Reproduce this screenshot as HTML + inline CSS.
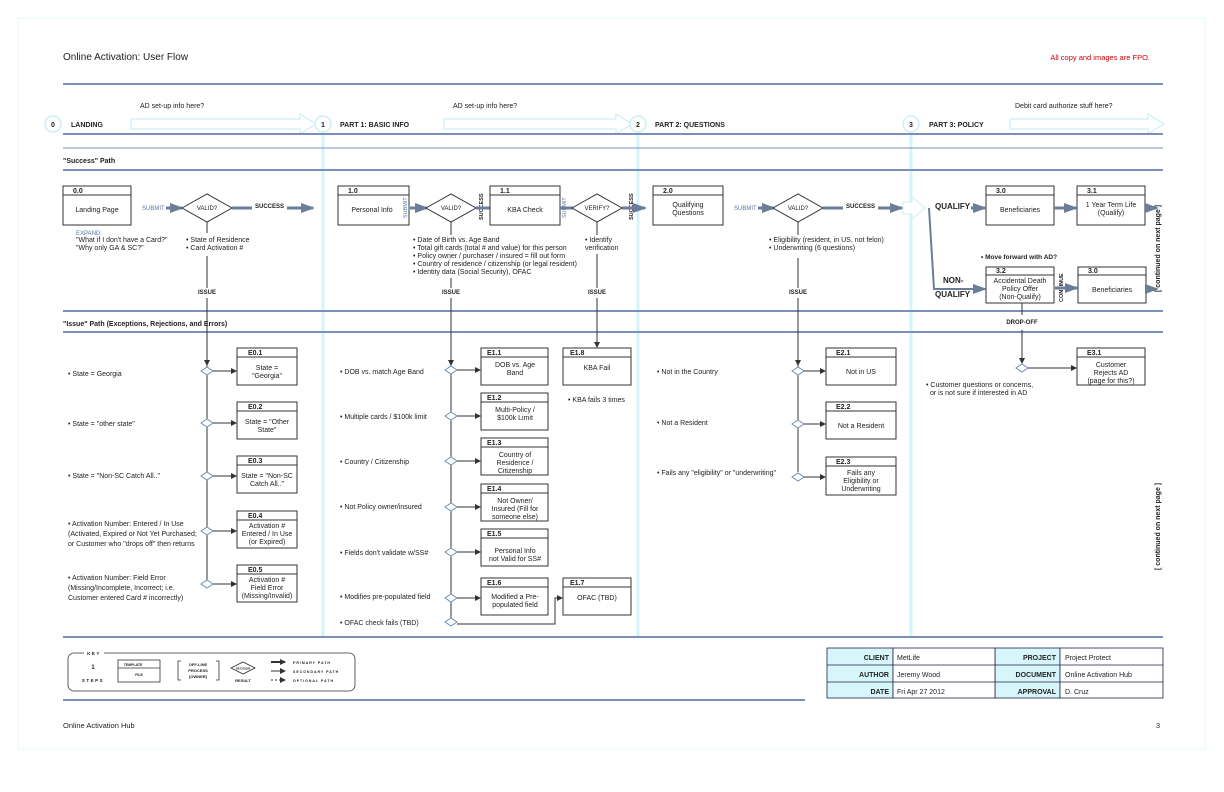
<!DOCTYPE html>
<html><head><meta charset="utf-8"><style>
html,body{margin:0;padding:0;background:#fff;}
svg{display:block;font-family:"Liberation Sans",sans-serif;}
text{fill:#222;font-size:7px;}
.b{font-weight:bold;}
.c{text-anchor:middle;}
.r{text-anchor:end;}
.bx{fill:#fff;stroke:#333;stroke-width:1;}
.hl{stroke:#7b90b8;stroke-width:2;}
.cy{stroke:#d4f4fa;stroke-width:3;}
.ln{stroke:#333;stroke-width:1;fill:none;}
.dm{fill:#fff;stroke:#6f8fb0;stroke-width:1;}
.dmb{fill:#fff;stroke:#333;stroke-width:1;}
.pa{stroke:#6a7d99;stroke-width:3;}
</style></head><body>
<svg width="1224" height="792" viewBox="0 0 1224 792" xmlns="http://www.w3.org/2000/svg">
<defs>
<marker id="ah" markerWidth="6" markerHeight="6" refX="5" refY="3" orient="auto" markerUnits="userSpaceOnUse"><path d="M0,0 L6,3 L0,6 z" fill="#333"/></marker>
<marker id="ahb" markerWidth="14" markerHeight="10" refX="12" refY="5" orient="auto" markerUnits="userSpaceOnUse"><path d="M0,0 L14,5 L0,10 z" fill="#6a7d99"/></marker>
</defs>
<rect x="18" y="18" width="1187" height="731" fill="none" stroke="#e4f8fb" stroke-width="1"/>
<text x="63" y="60" style="font-size:10px">Online Activation:  User Flow</text>
<text x="1150" y="60" class="r" style="fill:#c00;font-size:7.5px">All copy and images are FPO.</text>
<line class="hl" x1="63" y1="84" x2="1163" y2="84"/>
<!-- phase vertical lines -->
<line class="cy" x1="323" y1="118" x2="323" y2="637"/>
<line class="cy" x1="638" y1="118" x2="638" y2="637"/>
<line class="cy" x1="911" y1="118" x2="911" y2="637"/>
<!-- phase arrows -->
<g fill="#fff" stroke="#cdeff6" stroke-width="1.2">
<path d="M131,119 H300 V114 L316,124 L300,134 V129 H131 Z"/>
<path d="M444,119 H616 V114 L632,124 L616,134 V129 H444 Z"/>
<path d="M1010,119 H1148 V114 L1164,124 L1148,134 V129 H1010 Z"/>
</g>
<text x="140" y="108">AD set-up info here?</text>
<text x="453" y="108">AD set-up info here?</text>
<text x="1015" y="108">Debit card authorize stuff here?</text>
<g fill="#fff" stroke="#cdeff6" stroke-width="1.5">
<circle cx="53" cy="124" r="8"/><circle cx="323" cy="124" r="8"/><circle cx="638" cy="124" r="8"/><circle cx="911" cy="124" r="8"/>
</g>
<text x="53" y="127" class="b c">0</text><text x="323" y="127" class="b c">1</text><text x="638" y="127" class="b c">2</text><text x="911" y="127" class="b c">3</text>
<text x="71" y="127" class="b">LANDING</text>
<text x="340" y="127" class="b">PART 1:  BASIC INFO</text>
<text x="655" y="127" class="b">PART 2:  QUESTIONS</text>
<text x="929" y="127" class="b">PART 3:  POLICY</text>
<line class="hl" x1="63" y1="134" x2="1163" y2="134"/>
<line class="hl" x1="63" y1="148" x2="1163" y2="148" style="stroke-width:1"/>
<text x="63" y="163" class="b">"Success" Path</text>
<line class="hl" x1="63" y1="170" x2="1163" y2="170"/>
<line class="hl" x1="63" y1="311" x2="1163" y2="311"/>
<text x="63" y="326" class="b">"Issue" Path  (Exceptions, Rejections, and Errors)</text>
<line class="hl" x1="63" y1="332" x2="1163" y2="332"/>
<line class="hl" x1="63" y1="637" x2="1163" y2="637"/>

<!-- success row -->
<rect class="bx" x="63" y="186" width="68" height="39"/><line class="ln" x1="63" y1="195" x2="131" y2="195"/>
<text x="73" y="193" class="b">0.0</text><text x="97" y="212" class="c">Landing Page</text>
<text x="142" y="210" style="fill:#5577aa;font-size:6px">SUBMIT</text>
<line class="pa" x1="166" y1="208" x2="182" y2="208" marker-end="url(#ahb)"/>
<polygon class="dmb" points="182,208 207,194 232,208 207,222"/><text x="207" y="210" class="c" style="font-size:6px">VALID?</text>
<line class="pa" x1="232" y1="208" x2="252" y2="208"/><text x="255" y="208" class="b" style="font-size:6px">SUCCESS</text>
<line class="pa" x1="287" y1="208" x2="313" y2="208" marker-end="url(#ahb)"/>
<text x="76" y="235" style="fill:#5577aa;font-size:6px">EXPAND:</text>
<text x="76" y="242">"What if I don't have a Card?"</text>
<text x="76" y="250">"Why only GA &amp; SC?"</text>
<text x="186" y="242">• State of Residence</text><text x="186" y="250">• Card Activation #</text>
<line class="ln" x1="207" y1="222" x2="207" y2="233"/><line class="ln" x1="207" y1="256" x2="207" y2="288"/>
<text x="207" y="294" class="b c" style="font-size:6px">ISSUE</text>
<line class="ln" x1="207" y1="298" x2="207" y2="365" marker-end="url(#ah)"/>

<rect class="bx" x="338" y="186" width="71" height="39"/><line class="ln" x1="338" y1="195" x2="409" y2="195"/>
<text x="348" y="193" class="b">1.0</text><text x="372" y="212" class="c">Personal Info</text>
<text transform="translate(407,218) rotate(-90)" style="font-size:5.5px;fill:#5577aa">SUBMIT</text>
<line class="pa" x1="410" y1="208" x2="427" y2="208" marker-end="url(#ahb)"/>
<polygon class="dmb" points="426,208 451,194 476,208 451,222"/><text x="451" y="210" class="c" style="font-size:6px">VALID?</text>
<text transform="translate(483,220) rotate(-90)" class="b" style="font-size:5.5px">SUCCESS</text>
<line class="pa" x1="476" y1="208" x2="490" y2="208"/>
<rect class="bx" x="490" y="186" width="70" height="39"/><line class="ln" x1="490" y1="195" x2="560" y2="195"/>
<text x="500" y="193" class="b">1.1</text><text x="525" y="212" class="c">KBA Check</text>
<text transform="translate(566,218) rotate(-90)" style="font-size:5.5px;fill:#5577aa">SUBMIT</text>
<line class="pa" x1="560" y1="208" x2="573" y2="208"/>
<polygon class="dmb" points="572,208 597,194 622,208 597,222"/><text x="597" y="210" class="c" style="font-size:6px">VERIFY?</text>
<text transform="translate(633,220) rotate(-90)" class="b" style="font-size:5.5px">SUCCESS</text>
<line class="pa" x1="622" y1="208" x2="645" y2="208" marker-end="url(#ahb)"/>
<text x="413" y="242">• Date of Birth vs. Age Band</text>
<text x="413" y="250">• Total gift cards (total # and value) for this person</text>
<text x="413" y="258">• Policy owner / purchaser / insured = fill out form</text>
<text x="413" y="266">• Country of residence / citizenship (or legal resident)</text>
<text x="413" y="274">• Identity data (Social Security), OFAC</text>
<text x="585" y="242">• Identify</text><text x="585" y="250">verification</text>
<line class="ln" x1="451" y1="222" x2="451" y2="235"/><line class="ln" x1="451" y1="278" x2="451" y2="288"/>
<text x="451" y="294" class="b c" style="font-size:6px">ISSUE</text>
<line class="ln" x1="451" y1="298" x2="451" y2="365" marker-end="url(#ah)"/>
<line class="ln" x1="597" y1="222" x2="597" y2="235"/><line class="ln" x1="597" y1="254" x2="597" y2="288"/>
<text x="597" y="294" class="b c" style="font-size:6px">ISSUE</text>
<line class="ln" x1="597" y1="298" x2="597" y2="347" marker-end="url(#ah)"/>

<rect class="bx" x="653" y="186" width="70" height="39"/><line class="ln" x1="653" y1="195" x2="723" y2="195"/>
<text x="663" y="193" class="b">2.0</text><text x="688" y="207" class="c">Qualifying</text><text x="688" y="215" class="c">Questions</text>
<text x="734" y="210" style="fill:#5577aa;font-size:6px">SUBMIT</text>
<line class="pa" x1="758" y1="208" x2="774" y2="208" marker-end="url(#ahb)"/>
<polygon class="dmb" points="773,208 798,194 823,208 798,222"/><text x="798" y="210" class="c" style="font-size:6px">VALID?</text>
<line class="pa" x1="823" y1="208" x2="843" y2="208"/><text x="846" y="208" class="b" style="font-size:6px">SUCCESS</text>
<line class="pa" x1="878" y1="208" x2="902" y2="208" marker-end="url(#ahb)"/>
<text x="769" y="242">• Eligibility (resident, in US, not felon)</text><text x="769" y="250">• Underwriting (6 questions)</text>
<line class="ln" x1="798" y1="222" x2="798" y2="235"/><line class="ln" x1="798" y1="258" x2="798" y2="288"/>
<text x="798" y="294" class="b c" style="font-size:6px">ISSUE</text>
<line class="ln" x1="798" y1="298" x2="798" y2="365" marker-end="url(#ah)"/>

<path d="M903,202 H912 V197 L925,208 L912,219 V214 H903 Z" fill="#fff" stroke="#cdeff6"/>
<text x="935" y="209" class="b" style="font-size:8px">QUALIFY</text>
<line class="pa" x1="971" y1="208" x2="985" y2="208" marker-end="url(#ahb)"/>
<path d="M929,208 L934,289 H985" class="pa" fill="none" marker-end="url(#ahb)" style="stroke-width:2"/>
<text x="943" y="283" class="b" style="font-size:8px">NON-</text><text x="935" y="297" class="b" style="font-size:8px">QUALIFY</text>
<rect class="bx" x="986" y="186" width="68" height="39"/><line class="ln" x1="986" y1="195" x2="1054" y2="195"/>
<text x="996" y="193" class="b">3.0</text><text x="1020" y="212" class="c">Beneficiaries</text>
<line class="pa" x1="1054" y1="208" x2="1076" y2="208" marker-end="url(#ahb)"/>
<rect class="bx" x="1077" y="186" width="68" height="39"/><line class="ln" x1="1077" y1="195" x2="1145" y2="195"/>
<text x="1087" y="193" class="b">3.1</text><text x="1111" y="207" class="c">1 Year Term Life</text><text x="1111" y="215" class="c">(Qualify)</text>
<line class="pa" x1="1145" y1="208" x2="1157" y2="208" style="stroke-width:2" marker-end="url(#ahb)"/>
<text x="981" y="259" class="b" style="font-size:6.5px">• Move forward with AD?</text>
<rect class="bx" x="986" y="267" width="68" height="36"/><line class="ln" x1="986" y1="275" x2="1054" y2="275"/>
<text x="996" y="273" class="b">3.2</text><text x="1020" y="283" class="c">Accidental Death</text><text x="1020" y="291" class="c">Policy Offer</text><text x="1020" y="299" class="c">(Non-Qualify)</text>
<text transform="translate(1063,302) rotate(-90)" class="b" style="font-size:5.5px">CONTINUE</text>
<line class="pa" x1="1055" y1="288" x2="1077" y2="288" marker-end="url(#ahb)"/>
<rect class="bx" x="1078" y="267" width="68" height="36"/><line class="ln" x1="1078" y1="275" x2="1146" y2="275"/>
<text x="1088" y="273" class="b">3.0</text><text x="1112" y="292" class="c">Beneficiaries</text>
<line class="pa" x1="1146" y1="289" x2="1157" y2="289" style="stroke-width:2" marker-end="url(#ahb)"/>
<text transform="translate(1160,292) rotate(-90)" class="b" style="font-size:7px">[ continued on next page ]</text>
<line class="ln" x1="1022" y1="303" x2="1022" y2="315"/>
<text x="1022" y="324" class="b c" style="font-size:6px">DROP-OFF</text>
<line class="ln" x1="1022" y1="330" x2="1022" y2="363" marker-end="url(#ah)"/>
<text transform="translate(1160,570) rotate(-90)" class="b" style="font-size:7px">[ continued on next page ]</text>

<!-- E0 column -->
<line class="ln" x1="207" y1="365" x2="207" y2="584"/>
<g>
<text x="68" y="376">• State = Georgia</text>
<text x="68" y="426">• State = "other state"</text>
<text x="68" y="478">• State = "Non-SC Catch All.."</text>
<text x="68" y="526">• Activation Number:  Entered / In Use</text>
<text x="68" y="536">(Activated, Expired or Not Yet Purchased;</text>
<text x="68" y="546">or Customer who "drops off" then returns</text>
<text x="68" y="580">• Activation Number:  Field Error</text>
<text x="68" y="590">(Missing/Incomplete, Incorrect;  i.e.</text>
<text x="68" y="600">Customer entered Card # incorrectly)</text>
</g>
<g class="e0">
<polygon class="dm" points="201,371 207,367 213,371 207,375"/><line class="ln" x1="213" y1="371" x2="236" y2="371" marker-end="url(#ah)"/>
<rect class="bx" x="237" y="348" width="60" height="37"/><line class="ln" x1="237" y1="357" x2="297" y2="357"/><text x="248" y="355" class="b">E0.1</text>
<text x="267" y="370" class="c">State =</text><text x="267" y="378" class="c">"Georgia"</text>
<polygon class="dm" points="201,423 207,419 213,423 207,427"/><line class="ln" x1="213" y1="423" x2="236" y2="423" marker-end="url(#ah)"/>
<rect class="bx" x="237" y="402" width="60" height="37"/><line class="ln" x1="237" y1="411" x2="297" y2="411"/><text x="248" y="409" class="b">E0.2</text>
<text x="267" y="424" class="c">State = "Other</text><text x="267" y="432" class="c">State"</text>
<polygon class="dm" points="201,476 207,472 213,476 207,480"/><line class="ln" x1="213" y1="476" x2="236" y2="476" marker-end="url(#ah)"/>
<rect class="bx" x="237" y="456" width="60" height="37"/><line class="ln" x1="237" y1="465" x2="297" y2="465"/><text x="248" y="463" class="b">E0.3</text>
<text x="267" y="478" class="c">State = "Non-SC</text><text x="267" y="486" class="c">Catch All.."</text>
<polygon class="dm" points="201,531 207,527 213,531 207,535"/><line class="ln" x1="213" y1="531" x2="236" y2="531" marker-end="url(#ah)"/>
<rect class="bx" x="237" y="511" width="60" height="37"/><line class="ln" x1="237" y1="520" x2="297" y2="520"/><text x="248" y="518" class="b">E0.4</text>
<text x="267" y="528" class="c">Activation #</text><text x="267" y="536" class="c">Entered / In Use</text><text x="267" y="544" class="c">(or Expired)</text>
<polygon class="dm" points="201,584 207,580 213,584 207,588"/><line class="ln" x1="213" y1="584" x2="236" y2="584" marker-end="url(#ah)"/>
<rect class="bx" x="237" y="565" width="60" height="37"/><line class="ln" x1="237" y1="574" x2="297" y2="574"/><text x="248" y="572" class="b">E0.5</text>
<text x="267" y="582" class="c">Activation #</text><text x="267" y="590" class="c">Field Error</text><text x="267" y="598" class="c">(Missing/Invalid)</text>
</g>

<!-- E1 column -->
<line class="ln" x1="451" y1="365" x2="451" y2="618"/>
<text x="340" y="374">• DOB vs. match Age Band</text>
<text x="340" y="419">• Multiple cards / $100k limit</text>
<text x="340" y="464">• Country / Citizenship</text>
<text x="340" y="509">• Not Policy owner/insured</text>
<text x="340" y="555">• Fields don't validate w/SS#</text>
<text x="340" y="599">• Modifies pre-populated field</text>
<text x="340" y="625">• OFAC check fails  (TBD)</text>
<g>
<polygon class="dm" points="445,370 451,366 457,370 451,374"/><line class="ln" x1="457" y1="370" x2="480" y2="370" marker-end="url(#ah)"/>
<rect class="bx" x="481" y="348" width="67" height="37"/><line class="ln" x1="481" y1="357" x2="548" y2="357"/><text x="487" y="355" class="b">E1.1</text>
<text x="515" y="367" class="c">DOB vs. Age</text><text x="515" y="375" class="c">Band</text>
<polygon class="dm" points="445,416 451,412 457,416 451,420"/><line class="ln" x1="457" y1="416" x2="480" y2="416" marker-end="url(#ah)"/>
<rect class="bx" x="481" y="393" width="67" height="37"/><line class="ln" x1="481" y1="402" x2="548" y2="402"/><text x="487" y="400" class="b">E1.2</text>
<text x="515" y="412" class="c">Multi-Policy /</text><text x="515" y="420" class="c">$100k Limit</text>
<polygon class="dm" points="445,461 451,457 457,461 451,465"/><line class="ln" x1="457" y1="461" x2="480" y2="461" marker-end="url(#ah)"/>
<rect class="bx" x="481" y="438" width="67" height="37"/><line class="ln" x1="481" y1="447" x2="548" y2="447"/><text x="487" y="445" class="b">E1.3</text>
<text x="515" y="457" class="c">Country of</text><text x="515" y="465" class="c">Residence /</text><text x="515" y="473" class="c">Citizenship</text>
<polygon class="dm" points="445,507 451,503 457,507 451,511"/><line class="ln" x1="457" y1="507" x2="480" y2="507" marker-end="url(#ah)"/>
<rect class="bx" x="481" y="484" width="67" height="37"/><line class="ln" x1="481" y1="493" x2="548" y2="493"/><text x="487" y="491" class="b">E1.4</text>
<text x="515" y="503" class="c">Not Owner/</text><text x="515" y="511" class="c">Insured (Fill for</text><text x="515" y="519" class="c">someone else)</text>
<polygon class="dm" points="445,552 451,548 457,552 451,556"/><line class="ln" x1="457" y1="552" x2="480" y2="552" marker-end="url(#ah)"/>
<rect class="bx" x="481" y="529" width="67" height="37"/><line class="ln" x1="481" y1="538" x2="548" y2="538"/><text x="487" y="536" class="b">E1.5</text>
<text x="515" y="553" class="c">Personal Info</text><text x="515" y="561" class="c">not Valid for SS#</text>
<polygon class="dm" points="445,598 451,594 457,598 451,602"/><line class="ln" x1="457" y1="598" x2="480" y2="598" marker-end="url(#ah)"/>
<rect class="bx" x="481" y="578" width="67" height="37"/><line class="ln" x1="481" y1="587" x2="548" y2="587"/><text x="487" y="585" class="b">E1.6</text>
<text x="515" y="599" class="c">Modified a Pre-</text><text x="515" y="607" class="c">populated field</text>
<polygon class="dm" points="445,622 451,618 457,622 451,626"/>
<path class="ln" d="M457,624 H555 V598 H562" marker-end="url(#ah)"/>
<rect class="bx" x="563" y="578" width="68" height="37"/><line class="ln" x1="563" y1="587" x2="631" y2="587"/><text x="570" y="585" class="b">E1.7</text>
<text x="597" y="600" class="c">OFAC (TBD)</text>
<rect class="bx" x="563" y="348" width="68" height="37"/><line class="ln" x1="563" y1="357" x2="631" y2="357"/><text x="570" y="355" class="b">E1.8</text>
<text x="597" y="370" class="c">KBA Fail</text>
<text x="568" y="402">• KBA fails 3 times</text>
</g>

<!-- E2 -->
<line class="ln" x1="798" y1="365" x2="798" y2="472"/>
<text x="657" y="374">• Not in the Country</text>
<text x="657" y="425">• Not a Resident</text>
<text x="657" y="475">• Fails any "eligibility" or "underwriting"</text>
<polygon class="dm" points="792,371 798,367 804,371 798,375"/><line class="ln" x1="804" y1="371" x2="825" y2="371" marker-end="url(#ah)"/>
<rect class="bx" x="826" y="348" width="70" height="37"/><line class="ln" x1="826" y1="357" x2="896" y2="357"/><text x="836" y="355" class="b">E2.1</text>
<text x="861" y="374" class="c">Not in US</text>
<polygon class="dm" points="792,424 798,420 804,424 798,428"/><line class="ln" x1="804" y1="424" x2="825" y2="424" marker-end="url(#ah)"/>
<rect class="bx" x="826" y="402" width="70" height="37"/><line class="ln" x1="826" y1="411" x2="896" y2="411"/><text x="836" y="409" class="b">E2.2</text>
<text x="861" y="428" class="c">Not a Resident</text>
<polygon class="dm" points="792,477 798,473 804,477 798,481"/><line class="ln" x1="804" y1="477" x2="825" y2="477" marker-end="url(#ah)"/>
<rect class="bx" x="826" y="457" width="70" height="38"/><line class="ln" x1="826" y1="466" x2="896" y2="466"/><text x="836" y="464" class="b">E2.3</text>
<text x="861" y="475" class="c">Fails any</text><text x="861" y="483" class="c">Eligibility or</text><text x="861" y="491" class="c">Underwriting</text>

<!-- E3 -->
<polygon class="dm" points="1016,368 1022,364 1028,368 1022,372"/><line class="ln" x1="1028" y1="368" x2="1076" y2="368" marker-end="url(#ah)"/>
<rect class="bx" x="1077" y="348" width="68" height="37"/><line class="ln" x1="1077" y1="357" x2="1145" y2="357"/><text x="1087" y="355" class="b">E3.1</text>
<text x="1111" y="367" class="c">Customer</text><text x="1111" y="375" class="c">Rejects AD</text><text x="1111" y="383" class="c">(page for this?)</text>
<text x="926" y="387">• Customer questions or concerns,</text>
<text x="930" y="395">or is not sure if interested in AD</text>

<!-- key -->
<rect x="68" y="653" width="287" height="38" rx="6" fill="#fff" stroke="#333" stroke-width="0.8"/>
<rect x="84" y="649" width="20" height="7" fill="#fff"/>
<text x="94" y="655" class="b c" style="font-size:4.5px;letter-spacing:1.5px">KEY</text>
<text x="93" y="669" class="b c" style="font-size:6px">1</text>
<text x="93" y="682" class="b c" style="font-size:4.5px;letter-spacing:1.5px">STEPS</text>
<rect x="118" y="660" width="42" height="22" fill="#fff" stroke="#333" stroke-width="0.8"/><line class="ln" x1="118" y1="668" x2="160" y2="668" style="stroke-width:.8"/>
<text x="133" y="666" class="b c" style="font-size:3.5px">TEMPLATE</text><text x="139" y="676" class="b c" style="font-size:3.5px">FILE</text>
<path d="M181,661 h-3 v19 h3 M216,661 h3 v19 h-3" class="ln" style="stroke-width:.8"/>
<text x="198" y="666" class="b c" style="font-size:4px">OFF-LINE</text><text x="198" y="672" class="b c" style="font-size:4px">PROCESS</text><text x="198" y="678" class="b c" style="font-size:4px">[OWNER]</text>
<polygon class="dmb" points="231,668 243,662 255,668 243,674" style="stroke-width:.8"/><text x="243" y="669.5" class="b c" style="font-size:3px">DECISION</text>
<text x="243" y="682" class="b c" style="font-size:4px">RESULT</text>
<line x1="271" y1="662" x2="285" y2="662" stroke="#333" stroke-width="2" marker-end="url(#ah)"/>
<line x1="271" y1="671" x2="285" y2="671" stroke="#333" stroke-width="1" marker-end="url(#ah)"/>
<line x1="271" y1="680" x2="285" y2="680" stroke="#333" stroke-width="1" stroke-dasharray="2,2" marker-end="url(#ah)"/>
<text x="293" y="664" class="b" style="font-size:3.5px;letter-spacing:1px">PRIMARY PATH</text>
<text x="293" y="673" class="b" style="font-size:3.5px;letter-spacing:1px">SECONDARY PATH</text>
<text x="293" y="682" class="b" style="font-size:3.5px;letter-spacing:1px">OPTIONAL PATH</text>
<line class="hl" x1="63" y1="700" x2="805" y2="700"/>

<!-- table -->
<g stroke="#224" stroke-width="0.8">
<rect x="827" y="648" width="66" height="50" fill="#d6f6fb"/>
<rect x="995" y="648" width="65" height="50" fill="#d6f6fb"/>
<rect x="893" y="648" width="102" height="50" fill="#fff"/>
<rect x="1060" y="648" width="103" height="50" fill="#fff"/>
<line x1="827" y1="665" x2="1163" y2="665"/><line x1="827" y1="682" x2="1163" y2="682"/>
</g>
<g class="b" style="font-size:7.5px">
<text x="889" y="660" class="r b">CLIENT</text><text x="889" y="677" class="r b">AUTHOR</text><text x="889" y="694" class="r b">DATE</text>
<text x="1056" y="660" class="r b">PROJECT</text><text x="1056" y="677" class="r b">DOCUMENT</text><text x="1056" y="694" class="r b">APPROVAL</text>
</g>
<text x="897" y="660">MetLife</text><text x="897" y="677">Jeremy Wood</text><text x="897" y="694">Fri Apr 27 2012</text>
<text x="1065" y="660">Project Protect</text><text x="1065" y="677">Online Activation Hub</text><text x="1065" y="694">D. Cruz</text>

<text x="63" y="728" style="font-size:7.5px">Online Activation Hub</text>
<text x="1160" y="728" class="r" style="font-size:7.5px">3</text>
</svg>
</body></html>
